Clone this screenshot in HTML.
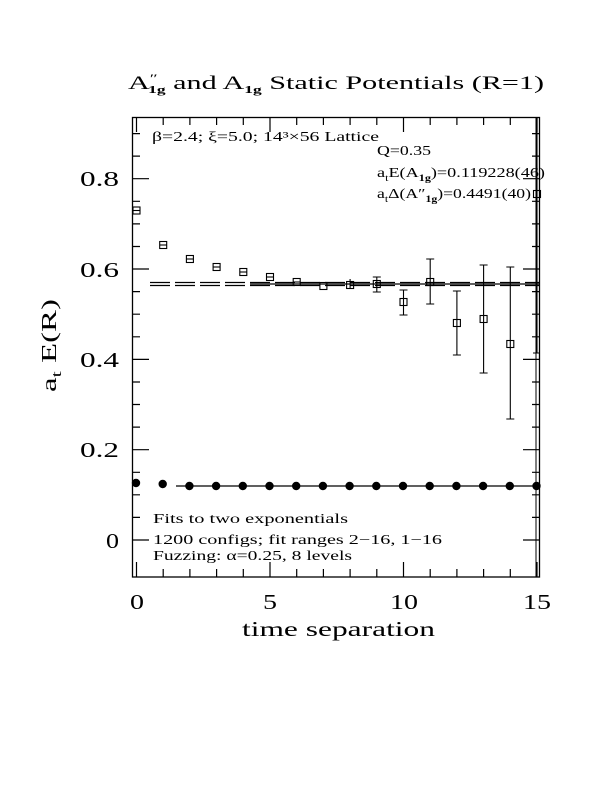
<!DOCTYPE html>
<html><head><style>body{margin:0;background:#fff}svg{display:block}</style></head><body>
<svg width="612" height="792" viewBox="0 0 612 792" xmlns="http://www.w3.org/2000/svg" font-family="Liberation Serif, serif">
<rect width="612" height="792" fill="#fff"/>
<g stroke="#000" stroke-width="1.3" fill="none">
<rect x="132.5" y="117.5" width="407" height="459.5"/>
<line x1="536" y1="117" x2="536" y2="577" stroke-width="1"/>
</g>
<g stroke="#000" stroke-width="1.2">
<path d="M136.5 577v-15M163.2 577v-8M189.9 577v-8M216.6 577v-8M243.3 577v-8M270 577v-15M296.7 577v-8M323.4 577v-8M350.1 577v-8M376.8 577v-8M403.5 577v-15M430.2 577v-8M456.9 577v-8M483.6 577v-8M510.3 577v-8M537 577v-15
M136.5 117v15M163.2 117v8M189.9 117v8M216.6 117v8M243.3 117v8M270 117v15M296.7 117v8M323.4 117v8M350.1 117v8M376.8 117v8M403.5 117v15M430.2 117v8M456.9 117v8M483.6 117v8M510.3 117v8M537 117v15"/>
<path d="M132 540h17M132 517.4h8M132 494.8h8M132 472.3h8M132 449.7h17M132 427.1h8M132 404.5h8M132 382h8M132 359.4h17M132 336.8h8M132 314.2h8M132 291.6h8M132 269h17M132 246.5h8M132 223.9h8M132 201.3h8M132 178.7h17M132 156.1h8M132 133.6h8
M540 540h-17M540 517.4h-8M540 494.8h-8M540 472.3h-8M540 449.7h-17M540 427.1h-8M540 404.5h-8M540 382h-8M540 359.4h-17M540 336.8h-8M540 314.2h-8M540 291.6h-8M540 269h-17M540 246.5h-8M540 223.9h-8M540 201.3h-8M540 178.7h-17M540 156.1h-8M540 133.6h-8"/>
</g>
<g stroke="#000" stroke-width="1.2">
<line x1="150" y1="282.5" x2="540" y2="282.5" stroke-dasharray="20,5"/>
<line x1="150" y1="285.5" x2="540" y2="285.5" stroke-dasharray="20,5"/>
<line x1="250" y1="284" x2="540" y2="284"/>
<line x1="176" y1="486" x2="540" y2="486"/>
</g>
<g stroke="#000" stroke-width="1.1" fill="none">
<rect x="133" y="207" width="7" height="7"/><line x1="133" y1="210.5" x2="140" y2="210.5"/>
<rect x="159.7" y="241.5" width="7" height="7"/><line x1="159.7" y1="245" x2="166.7" y2="245"/>
<rect x="186.4" y="255.5" width="7" height="7"/><line x1="186.4" y1="259" x2="193.4" y2="259"/>
<rect x="213.1" y="263.5" width="7" height="7"/><line x1="213.1" y1="267" x2="220.1" y2="267"/>
<rect x="239.8" y="268.5" width="7" height="7"/><line x1="239.8" y1="272" x2="246.8" y2="272"/>
<rect x="266.5" y="273.5" width="7" height="7"/><line x1="266.5" y1="277" x2="273.5" y2="277"/>
<rect x="293.2" y="278.5" width="7" height="7"/><line x1="293.2" y1="282" x2="300.2" y2="282"/>
<rect x="319.9" y="282.5" width="7" height="7"/>
<rect x="346.6" y="281.5" width="7" height="7"/><path d="M350.1 279v10"/>
<rect x="373.3" y="280.5" width="7" height="7"/><path d="M376.8 277v15M372.8 277h8M372.8 292h8"/>
<rect x="400" y="298.5" width="7" height="7"/><path d="M403.5 290v25M399.5 290h8M399.5 315h8"/>
<rect x="426.7" y="278.5" width="7" height="7"/><path d="M430.2 259v45M426.2 259h8M426.2 304h8"/>
<rect x="453.4" y="319.5" width="7" height="7"/><path d="M456.9 291v64M452.9 291h8M452.9 355h8"/>
<rect x="480.1" y="315.5" width="7" height="7"/><path d="M483.6 265v108M479.6 265h8M479.6 373h8"/>
<rect x="506.8" y="340.5" width="7" height="7"/><path d="M510.3 267v152M506.3 267h8M506.3 419h8"/>
<rect x="533.5" y="190.5" width="7" height="7"/><path d="M537 118v235M533 353h7"/>
</g>
<g fill="#000">
<circle cx="136" cy="483" r="4.2"/><circle cx="162.7" cy="484" r="4.2"/>
<circle cx="189.4" cy="486" r="4.2"/><circle cx="216.1" cy="486" r="4.2"/><circle cx="242.8" cy="486" r="4.2"/>
<circle cx="269.5" cy="486" r="4.2"/><circle cx="296.2" cy="486" r="4.2"/><circle cx="322.9" cy="486" r="4.2"/>
<circle cx="349.6" cy="486" r="4.2"/><circle cx="376.3" cy="486" r="4.2"/><circle cx="403" cy="486" r="4.2"/>
<circle cx="429.7" cy="486" r="4.2"/><circle cx="456.4" cy="486" r="4.2"/><circle cx="483.1" cy="486" r="4.2"/>
<circle cx="509.8" cy="486" r="4.2"/><circle cx="536.5" cy="486" r="4.2"/>
</g>
<g fill="#000">
<text x="128" y="89" font-size="19" textLength="416" lengthAdjust="spacingAndGlyphs">A<tspan font-size="12" dy="-7">″</tspan><tspan font-size="11" dy="11" dx="-6" font-weight="bold">1g</tspan><tspan dy="-4"> and A</tspan><tspan font-size="11" dy="4" font-weight="bold">1g</tspan><tspan dy="-4"> Static Potentials (R=1)</tspan></text>
<text x="152" y="141" font-size="13.5" textLength="227" lengthAdjust="spacingAndGlyphs">β=2.4; ξ=5.0; 14³×56 Lattice</text>
<text x="377" y="155" font-size="13.5" textLength="54" lengthAdjust="spacingAndGlyphs">Q=0.35</text>
<text x="377" y="177" font-size="13.5" textLength="168" lengthAdjust="spacingAndGlyphs">a<tspan font-size="9" dy="4">t</tspan><tspan dy="-4">E(A</tspan><tspan font-size="9" dy="4" font-weight="bold">1g</tspan><tspan dy="-4">)=0.119228(46)</tspan></text>
<text x="377" y="198" font-size="13.5" textLength="154" lengthAdjust="spacingAndGlyphs">a<tspan font-size="9" dy="4">t</tspan><tspan dy="-4">Δ(A″</tspan><tspan font-size="9" dy="4" font-weight="bold">1g</tspan><tspan dy="-4">)=0.4491(40)</tspan></text>
<text x="153" y="523" font-size="13.5" textLength="195" lengthAdjust="spacingAndGlyphs">Fits to two exponentials</text>
<text x="153" y="544" font-size="13.5" textLength="289" lengthAdjust="spacingAndGlyphs">1200 configs; fit ranges 2−16, 1−16</text>
<text x="153" y="560" font-size="13.5" textLength="199" lengthAdjust="spacingAndGlyphs">Fuzzing: α=0.25, 8 levels</text>
<g font-size="21">
<text x="106" y="548" textLength="13" lengthAdjust="spacingAndGlyphs">0</text>
<text x="80" y="457" textLength="39" lengthAdjust="spacingAndGlyphs">0.2</text>
<text x="80" y="367" textLength="39" lengthAdjust="spacingAndGlyphs">0.4</text>
<text x="80" y="277" textLength="39" lengthAdjust="spacingAndGlyphs">0.6</text>
<text x="80" y="186" textLength="39" lengthAdjust="spacingAndGlyphs">0.8</text>
</g>
<g font-size="21">
<text x="130" y="609" textLength="14" lengthAdjust="spacingAndGlyphs">0</text>
<text x="263" y="609" textLength="14" lengthAdjust="spacingAndGlyphs">5</text>
<text x="390" y="609" textLength="28" lengthAdjust="spacingAndGlyphs">10</text>
<text x="523" y="609" textLength="28" lengthAdjust="spacingAndGlyphs">15</text>
</g>
<text x="242" y="636" font-size="21" textLength="193" lengthAdjust="spacingAndGlyphs">time separation</text>
<text transform="translate(56,392) rotate(-90)" font-size="21" textLength="93" lengthAdjust="spacingAndGlyphs">a<tspan font-size="14" dy="5">t</tspan><tspan dy="-5"> E(R)</tspan></text>
</g>
</svg>
</body></html>
